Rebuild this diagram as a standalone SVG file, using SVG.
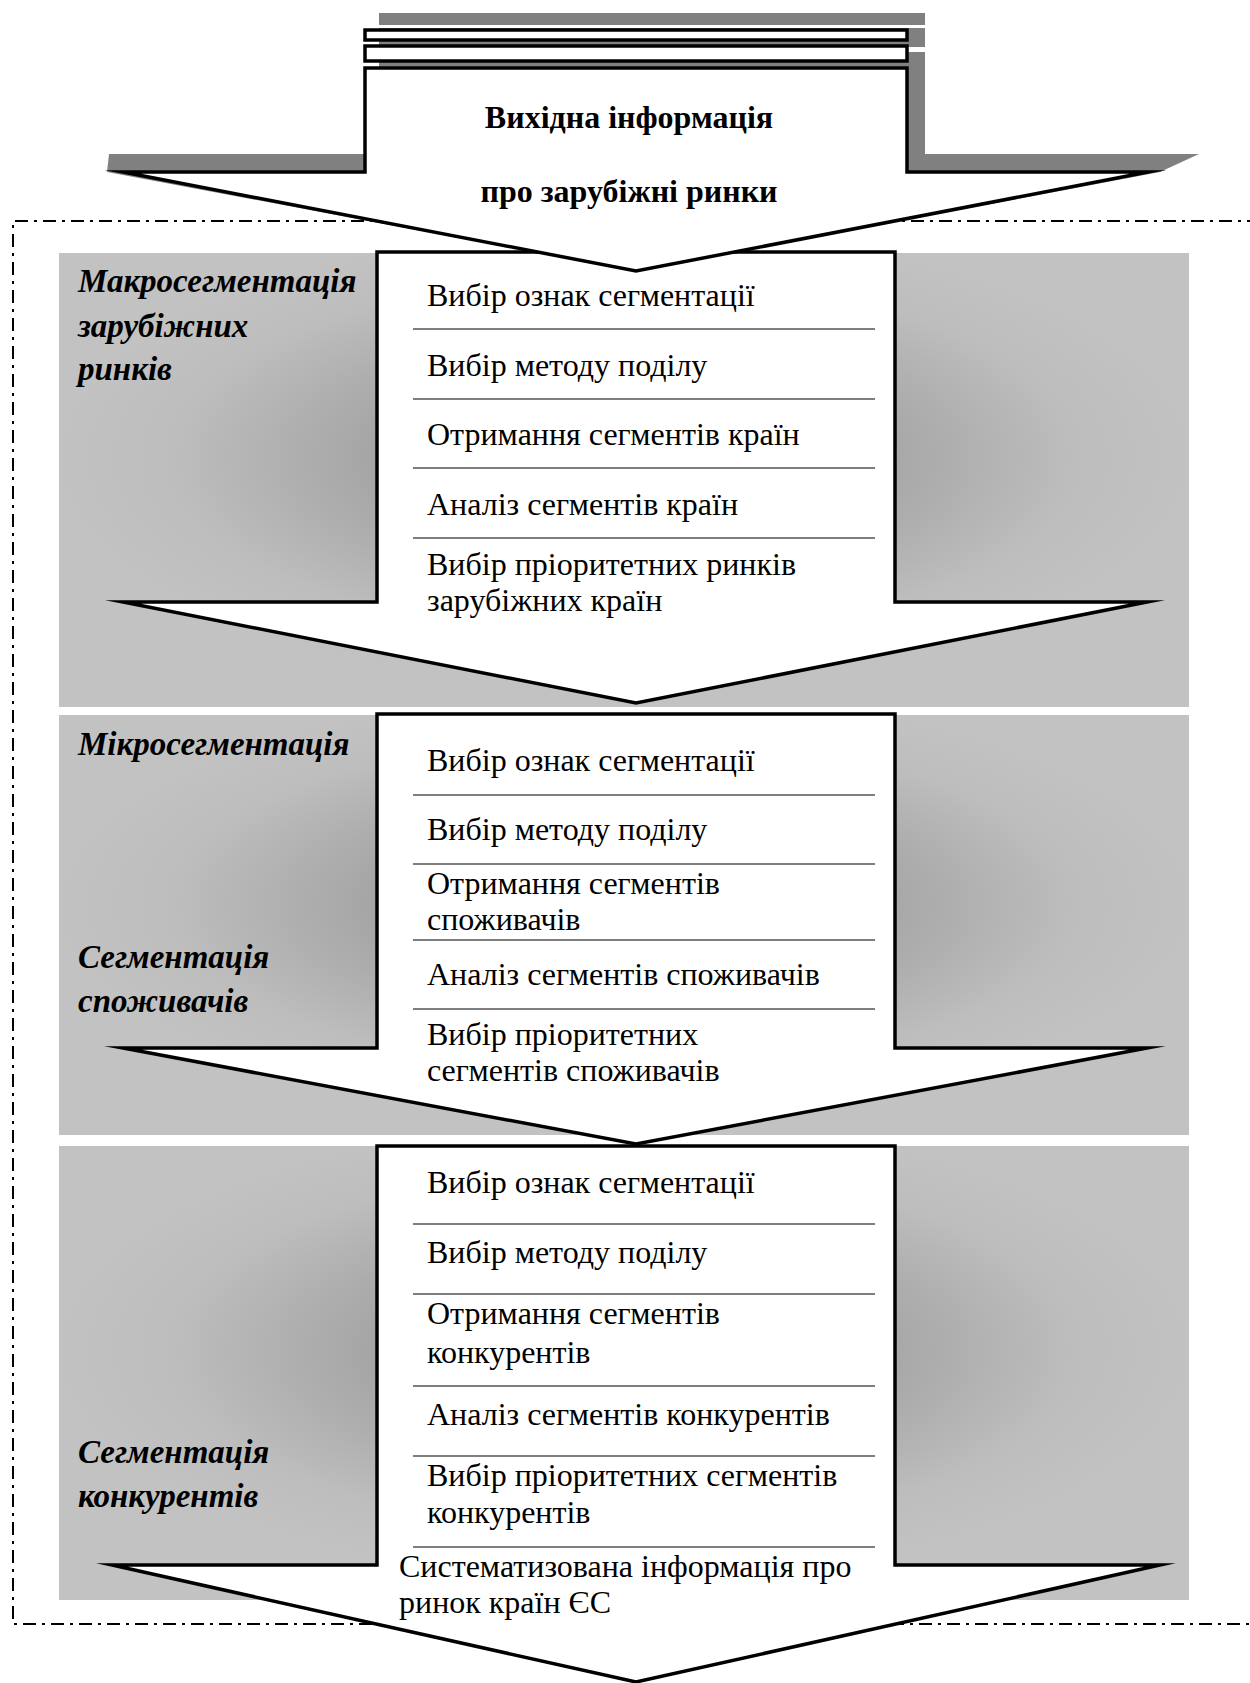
<svg xmlns="http://www.w3.org/2000/svg" width="1250" height="1683" viewBox="0 0 1250 1683">
<defs>
<radialGradient id="pg" cx="0.5" cy="0.45" r="0.5">
<stop offset="0" stop-color="#979797"/>
<stop offset="0.45" stop-color="#a6a6a6"/>
<stop offset="0.8" stop-color="#bdbdbd"/>
<stop offset="1" stop-color="#c2c2c2"/>
</radialGradient>
<style>
.panel{fill:url(#pg);}
.arrow{fill:#ffffff;stroke:#000000;stroke-width:3.5;stroke-linejoin:miter;stroke-miterlimit:20;}
.shadow{fill:#808080;}
.sep{stroke:#555555;stroke-width:1.6;}
.item{font-family:"Liberation Serif","Times New Roman",serif;font-size:32px;fill:#000;}
.lbl{font-family:"Liberation Serif","Times New Roman",serif;font-size:33px;font-weight:bold;font-style:italic;fill:#000;}
.head{font-family:"Liberation Serif","Times New Roman",serif;font-size:32px;font-weight:bold;fill:#000;text-anchor:middle;}
.frame{fill:none;stroke:#000;stroke-width:2;stroke-dasharray:13 6 3 6;}
</style>
</defs>

<g id="frame">
<path class="frame" d="M1260,221 H13 V1624 H1260"/>
</g>

<g id="panels">
<rect id="panel1" class="panel" x="59" y="253" width="1130" height="454"/>
<rect id="panel2" class="panel" x="59" y="715" width="1130" height="420"/>
<rect id="panel3" class="panel" x="59" y="1146" width="1130" height="454"/>
</g>

<g id="connectors">
<polygon id="arrow3" class="arrow" points="377,1146 895,1146 895,1565 1160,1565 636,1682 112,1565 377,1565"/>
<polygon id="arrow2" class="arrow" points="377,714 895,714 895,1048 1147,1048 636,1144 123,1048 377,1048"/>
<polygon id="arrow1" class="arrow" points="377,252 895,252 895,602 1147,602 636,703 123,602 377,602"/>
<g id="top-arrow">
<rect class="shadow" x="379" y="13" width="546" height="12"/>
<rect class="shadow" x="379" y="28" width="546" height="19"/>
<polygon class="shadow" points="379,52 925,52 925,154 1199,154 1160,172 636,271 107,172 109,154 379,154"/>
<rect class="arrow" x="365" y="30" width="542" height="10"/>
<rect class="arrow" x="365" y="46" width="542" height="15"/>
<polygon class="arrow" points="365,68 907,68 907,172 1148,172 636,271 123,172 365,172"/>
</g>
</g>

<g id="node-source">
<text class="head" x="629" y="128">Вихідна інформація</text>
<text class="head" x="629" y="202">про зарубіжні ринки</text>
</g>

<g id="node-macro">
<text class="lbl" x="78" y="292">Макросегментація</text>
<text class="lbl" x="78" y="337">зарубіжних</text>
<text class="lbl" x="78" y="380">ринків</text>
<text class="item" x="427" y="306">Вибір ознак сегментації</text>
<line class="sep" x1="413" y1="329" x2="875" y2="329"/>
<text class="item" x="427" y="376">Вибір методу поділу</text>
<line class="sep" x1="413" y1="399" x2="875" y2="399"/>
<text class="item" x="427" y="445">Отримання сегментів країн</text>
<line class="sep" x1="413" y1="468" x2="875" y2="468"/>
<text class="item" x="427" y="515">Аналіз сегментів країн</text>
<line class="sep" x1="413" y1="538" x2="875" y2="538"/>
<text class="item" x="427" y="575">Вибір пріоритетних ринків</text>
<text class="item" x="427" y="611">зарубіжних країн</text>
</g>

<g id="node-micro">
<text class="lbl" x="78" y="755">Мікросегментація</text>
<text class="lbl" x="78" y="968">Сегментація</text>
<text class="lbl" x="78" y="1012">споживачів</text>
<text class="item" x="427" y="771">Вибір ознак сегментації</text>
<line class="sep" x1="413" y1="795" x2="875" y2="795"/>
<text class="item" x="427" y="840">Вибір методу поділу</text>
<line class="sep" x1="413" y1="864" x2="875" y2="864"/>
<text class="item" x="427" y="894">Отримання сегментів</text>
<text class="item" x="427" y="930">споживачів</text>
<line class="sep" x1="413" y1="940" x2="875" y2="940"/>
<text class="item" x="427" y="985">Аналіз сегментів споживачів</text>
<line class="sep" x1="413" y1="1009" x2="875" y2="1009"/>
<text class="item" x="427" y="1045">Вибір пріоритетних</text>
<text class="item" x="427" y="1081">сегментів споживачів</text>
</g>

<g id="node-competitors">
<text class="lbl" x="78" y="1463">Сегментація</text>
<text class="lbl" x="78" y="1507">конкурентів</text>
<text class="item" x="427" y="1193">Вибір ознак сегментації</text>
<line class="sep" x1="413" y1="1224" x2="875" y2="1224"/>
<text class="item" x="427" y="1263">Вибір методу поділу</text>
<line class="sep" x1="413" y1="1294" x2="875" y2="1294"/>
<text class="item" x="427" y="1324">Отримання сегментів</text>
<text class="item" x="427" y="1363">конкурентів</text>
<line class="sep" x1="413" y1="1386" x2="875" y2="1386"/>
<text class="item" x="427" y="1425">Аналіз сегментів конкурентів</text>
<line class="sep" x1="413" y1="1456" x2="875" y2="1456"/>
<text class="item" x="427" y="1486">Вибір пріоритетних сегментів</text>
<text class="item" x="427" y="1523">конкурентів</text>
<line class="sep" x1="413" y1="1547" x2="875" y2="1547"/>
<text class="item" x="399" y="1577">Систематизована інформація про</text>
<text class="item" x="399" y="1613">ринок країн ЄС</text>
</g>
</svg>
